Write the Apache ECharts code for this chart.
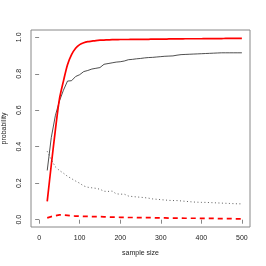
<!DOCTYPE html>
<html><head><meta charset="utf-8">
<script src="https://cdn.jsdelivr.net/npm/echarts@6/dist/echarts.min.js"></script>
<style>html,body{margin:0;padding:0;background:#fff}#c{width:266px;height:266px}</style>
</head><body><div id="c"></div>
<script>
var sampleSizes = [20,30,40,50,60,70,80,90,100,110,120,130,140,150,160,170,180,190,200,
  210,220,230,240,250,260,270,280,290,
  300,310,320,330,340,350,360,370,380,390,400,
  410,420,430,440,450,460,470,480,490,500];
var redSolid = [0.10,0.30,0.49,0.66,0.76,0.85,0.905,0.94,0.96,0.97,0.976,0.979,0.982,0.984,0.985,0.986,0.987,0.987,0.988,
  0.988,0.988,0.989,0.989,0.989,0.989,0.989,0.990,0.990,
  0.990,0.990,0.991,0.991,0.991,0.991,0.992,0.992,0.992,0.992,0.992,
  0.993,0.993,0.993,0.993,0.993,0.994,0.994,0.994,0.994,0.994];
var blackSolid = [0.27,0.45,0.57,0.65,0.71,0.76,0.762,0.785,0.795,0.812,0.818,0.826,0.83,0.834,0.852,0.856,0.86,0.864,0.866,
  0.87,0.877,0.879,0.882,0.884,0.887,0.889,0.89,0.892,
  0.894,0.896,0.897,0.898,0.902,0.905,0.906,0.907,0.908,0.909,0.91,
  0.911,0.912,0.913,0.914,0.915,0.915,0.915,0.915,0.915,0.915];
var blackDotted = [0.375,0.33,0.29,0.27,0.255,0.238,0.225,0.212,0.2,0.185,0.178,0.175,0.172,0.167,0.156,0.155,0.157,0.142,0.14,
  0.14,0.13,0.127,0.125,0.123,0.121,0.118,0.114,0.112,
  0.11,0.108,0.106,0.105,0.105,0.103,0.101,0.099,0.097,0.096,0.095,
  0.095,0.094,0.093,0.092,0.091,0.09,0.089,0.088,0.087,0.087];
var redDashed = [0.01,0.017,0.022,0.026,0.026,0.024,0.021,0.02,0.019,0.018,0.018,0.017,0.017,0.017,0.016,0.015,0.014,0.014,0.013,
  0.013,0.012,0.012,0.012,0.011,0.011,0.011,0.011,0.010,
  0.010,0.010,0.009,0.009,0.009,0.009,0.008,0.008,0.008,0.008,0.007,
  0.007,0.007,0.007,0.006,0.006,0.006,0.006,0.005,0.005,0.005];
var xTicks = [0,100,200,300,400,500];
var yTicks = [0,0.2,0.4,0.6,0.8,1.0];
var xTitle = 'sample size';
var yTitle = 'probability';

function pairs(ys){ return sampleSizes.map(function(x,i){ return [x, ys[i]]; }); }
var font = 'Liberation Sans, Arial, sans-serif';
var txt = '#222';
var axisGray = '#888';
var chart = echarts.init(document.getElementById('c'), null, {renderer:'canvas'});
chart.setOption({
  animation:false,
  grid:{left:31,top:30,right:16,bottom:39,containLabel:false,outerBoundsMode:'none',
    show:true,borderColor:axisGray,borderWidth:1,backgroundColor:'transparent'},
  xAxis:{type:'value',min:-20,max:520,
    name:xTitle,nameLocation:'middle',nameGap:23,
    nameTextStyle:{fontSize:7,color:txt,fontFamily:font},
    axisLine:{show:false},splitLine:{show:false},
    axisTick:{show:true,inside:false,length:4,lineStyle:{color:axisGray},customValues:xTicks},
    axisLabel:{show:true,fontSize:7,color:txt,fontFamily:font,margin:8,customValues:xTicks}},
  yAxis:{type:'value',min:-0.04,max:1.04,
    name:yTitle,nameLocation:'middle',nameGap:23,nameRotate:90,
    nameTextStyle:{fontSize:7,color:txt,fontFamily:font},
    axisLine:{show:false},splitLine:{show:false},
    axisTick:{show:true,inside:false,length:4,lineStyle:{color:axisGray},customValues:yTicks},
    axisLabel:{show:true,fontSize:7,color:txt,fontFamily:font,margin:8,rotate:90,
      customValues:yTicks,formatter:function(v){return v.toFixed(1);}}},
  series:[
    {type:'line',data:pairs(blackSolid),showSymbol:false,symbol:'none',lineStyle:{color:'#222',width:0.8}},
    {type:'line',data:pairs(redSolid),showSymbol:false,symbol:'none',smooth:0.3,lineStyle:{color:'#ff0000',width:1.7}},
    {type:'line',data:pairs(blackDotted),showSymbol:false,symbol:'none',lineStyle:{color:'#333',width:0.8,type:[1,2.5]}},
    {type:'line',data:pairs(redDashed),showSymbol:false,symbol:'none',lineStyle:{color:'#ff0000',width:1.7,type:[5,4]}}
  ]
});
</script></body></html>
